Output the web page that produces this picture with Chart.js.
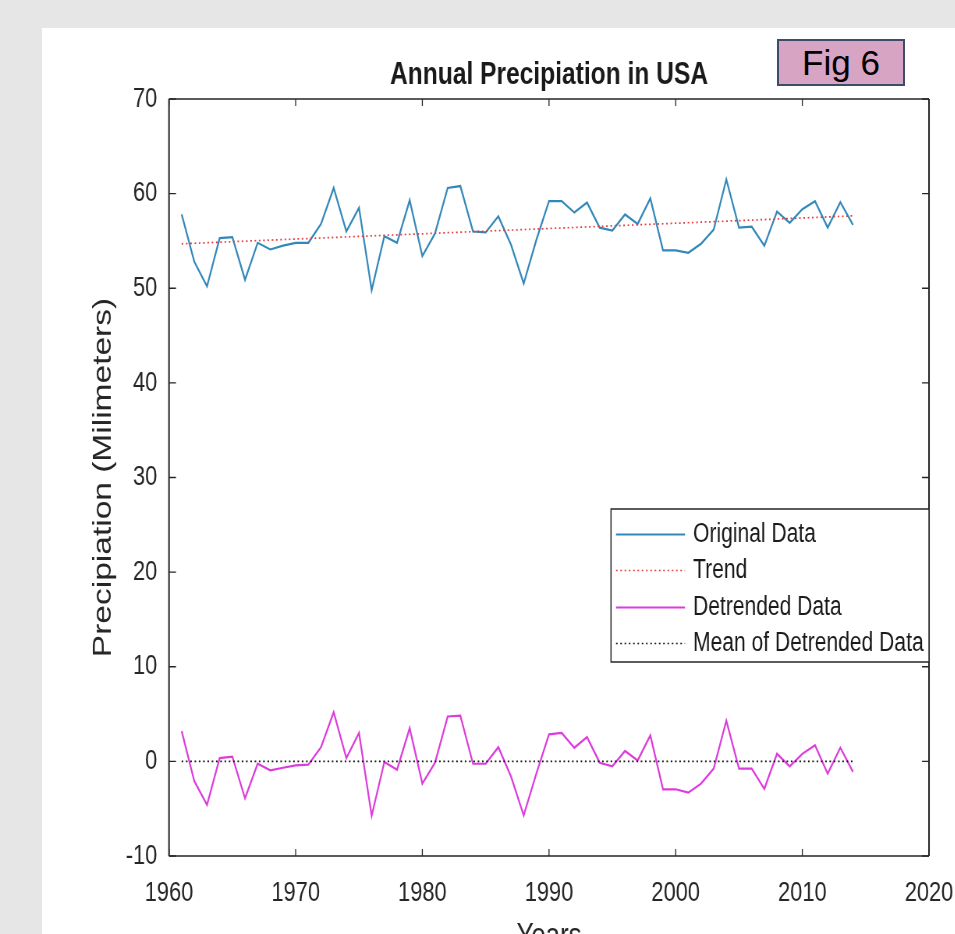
<!DOCTYPE html>
<html>
<head>
<meta charset="utf-8">
<script src="https://cdn.jsdelivr.net/npm/chart.js@4.4.1/dist/chart.umd.min.js"></script>
<style>
  html, body { margin: 0; padding: 0; width: 955px; height: 934px; overflow: hidden; background: #e6e6e6; }
  #panel { position: absolute; left: 42px; top: 28px; right: 0; bottom: 0; background: #ffffff; }
  #wrap { position: absolute; left: 0; top: 0; transform-origin: 0 0; }
  #fig { position: absolute; left: 777px; top: 39px; width: 124px; height: 43px;
         background: #d8a4c4; border: 2px solid #3e4c6c; color: #000;
         font: 35px 'Liberation Sans', Arial, sans-serif; text-align: center; line-height: 43px; }
</style>
</head>
<body>
<div id="panel"></div>
<div id="wrap"><canvas id="c"></canvas></div>
<div id="fig">Fig 6</div>
<script>
// Annual precipitation series, 1961-2014
const years = [1961, 1962, 1963, 1964, 1965, 1966, 1967, 1968, 1969, 1970,
               1971, 1972, 1973, 1974, 1975, 1976, 1977, 1978, 1979, 1980,
               1981, 1982, 1983, 1984, 1985, 1986, 1987, 1988, 1989, 1990,
               1991, 1992, 1993, 1994, 1995, 1996, 1997, 1998, 1999, 2000,
               2001, 2002, 2003, 2004, 2005, 2006, 2007, 2008, 2009, 2010,
               2011, 2012, 2013, 2014];
const originalData = [57.8, 52.8, 50.2, 55.3, 55.4, 50.9, 54.8, 54.1, 54.5, 54.8,
                      54.8, 56.8, 60.6, 56.0, 58.5, 49.8, 55.5, 54.8, 59.3, 53.4,
                      55.8, 60.6, 60.8, 56.0, 55.9, 57.6, 54.6, 50.5, 55.1, 59.2,
                      59.2, 58.0, 59.05, 56.4, 56.1, 57.8, 56.8, 59.5, 54.0, 54.0,
                      53.75, 54.7, 56.2, 61.5, 56.4, 56.5, 54.5, 58.1, 56.9, 58.35,
                      59.2, 56.4, 59.1, 56.7];
const detrendedData = [3.2, -2.1, -4.6, 0.35, 0.5, -3.9, -0.25, -0.95, -0.67, -0.42,
                       -0.35, 1.5, 5.2, 0.35, 3.0, -5.75, -0.07, -0.88, 3.5, -2.35,
                       -0.14, 4.74, 4.84, -0.25, -0.25, 1.5, -1.6, -5.7, -1.3, 2.85,
                       3.0, 1.44, 2.56, -0.14, -0.53, 1.1, 0.1, 2.74, -2.95, -2.95,
                       -3.3, -2.35, -0.77, 4.3, -0.77, -0.77, -2.9, 0.8, -0.53, 0.8,
                       1.7, -1.3, 1.44, -1.1];
// straight lines: linear trend and mean of the detrended series
const lineYears = [1961, 2014];
const trendValues = [54.7, 57.65];
const meanValues = [0, 0];

const xTicks = [1960, 1970, 1980, 1990, 2000, 2010, 2020];
const yTicks = [-10, 0, 10, 20, 30, 40, 50, 60, 70];

// ---- layout (the whole drawing is squeezed horizontally by S) ----
const S = 0.78;
const CW = Math.round(955 / S), CH = 960;
const plotLeft = 169 / S, plotRight = 929 / S, plotTop = 99, plotBottom = 856;
const FONT = "'Liberation Sans', Arial, Helvetica, sans-serif";
const AXIS = '#262626';

const canvas = document.getElementById('c');
canvas.width = CW; canvas.height = CH;
canvas.style.width = CW + 'px'; canvas.style.height = CH + 'px';
document.getElementById('wrap').style.transform = 'scaleX(' + S + ')';

const pts = (xs, ys) => xs.map((x, i) => ({ x: x, y: ys[i] }));

// axes box with inward tick marks on all four sides
const boxPlugin = {
  id: 'box',
  afterDatasetsDraw(chart) {
    const { ctx, chartArea: a, scales } = chart;
    ctx.save();
    ctx.strokeStyle = AXIS;
    ctx.lineWidth = 1.3;
    xTicks.forEach(v => {
      const px = scales.x.getPixelForValue(v);
      ctx.beginPath();
      ctx.moveTo(px, a.bottom); ctx.lineTo(px, a.bottom - 7);
      ctx.moveTo(px, a.top); ctx.lineTo(px, a.top + 7);
      ctx.stroke();
    });
    yTicks.forEach(v => {
      const py = scales.y.getPixelForValue(v);
      ctx.beginPath();
      ctx.moveTo(a.left, py); ctx.lineTo(a.left + 7 / S, py);
      ctx.moveTo(a.right, py); ctx.lineTo(a.right - 7 / S, py);
      ctx.stroke();
    });
    ctx.lineWidth = 1.6;
    ctx.beginPath();
    ctx.moveTo(a.left, a.top); ctx.lineTo(a.right, a.top);
    ctx.moveTo(a.left, a.bottom); ctx.lineTo(a.right, a.bottom);
    ctx.stroke();
    ctx.lineWidth = 2;
    ctx.beginPath();
    ctx.moveTo(a.left, a.top); ctx.lineTo(a.left, a.bottom);
    ctx.moveTo(a.right, a.top); ctx.lineTo(a.right, a.bottom);
    ctx.stroke();
    ctx.restore();
  }
};

// legend box inside the plot, lower right
const legendPlugin = {
  id: 'insideLegend',
  afterDraw(chart) {
    const { ctx } = chart;
    const bx = 611 / S, bw = 929 / S - bx, by = 509, bh = 153;
    const rows = [533, 569, 606, 642];
    ctx.save();
    ctx.fillStyle = '#ffffff';
    ctx.fillRect(bx, by, bw, bh);
    ctx.strokeStyle = AXIS;
    ctx.lineWidth = 1.5;
    ctx.strokeRect(bx, by, bw, bh);
    chart.data.datasets.forEach((ds, i) => {
      const y = rows[i] + 1.5;
      ctx.beginPath();
      ctx.strokeStyle = ds.borderColor;
      ctx.lineWidth = ds.borderWidth;
      ctx.setLineDash(ds.borderDash || []);
      ctx.moveTo(616 / S, y); ctx.lineTo(685 / S, y);
      ctx.stroke();
      ctx.setLineDash([]);
      ctx.fillStyle = '#1a1a1a';
      ctx.font = '27px ' + FONT;
      ctx.textBaseline = 'middle';
      ctx.textAlign = 'left';
      ctx.fillText(ds.label, 693 / S, y);
    });
    ctx.restore();
  }
};

new Chart(canvas, {
  type: 'line',
  data: {
    datasets: [
      { label: 'Original Data', data: pts(years, originalData), borderColor: '#3388ba',
        borderWidth: 2.2, pointRadius: 0, tension: 0, order: 4 },
      { label: 'Trend', data: pts(lineYears, trendValues), borderColor: '#e23a3a',
        borderWidth: 1.7, borderDash: [2, 3.5], pointRadius: 0, tension: 0, order: 3 },
      { label: 'Detrended Data', data: pts(years, detrendedData), borderColor: '#dc3cdc',
        borderWidth: 2.2, pointRadius: 0, tension: 0, order: 2 },
      { label: 'Mean of Detrended Data', data: pts(lineYears, meanValues), borderColor: '#111111',
        borderWidth: 1.7, borderDash: [2, 3.5], pointRadius: 0, tension: 0, order: 1 }
    ]
  },
  options: {
    responsive: false,
    animation: false,
    devicePixelRatio: 1,
    layout: { padding: { left: 0, right: CW - plotRight, top: 0, bottom: 0 } },
    plugins: {
      legend: { display: false },
      tooltip: { enabled: false },
      title: {
        display: true, text: 'Annual Precipiation in USA', fullSize: false,
        color: '#1a1a1a', font: { family: FONT, size: 31.5, weight: 'bold' },
        padding: { top: 56, bottom: plotTop - 56 - 31.5 * 1.2 }
      }
    },
    scales: {
      x: {
        type: 'linear', min: 1960, max: 2020,
        afterBuildTicks: s => { s.ticks = xTicks.map(v => ({ value: v })); },
        afterFit: s => { s.height = CH - plotBottom; s.paddingLeft = 0; s.paddingRight = 0; },
        ticks: { color: AXIS, font: { family: FONT, size: 28 }, padding: 20,
                 maxRotation: 0, autoSkip: false, callback: v => String(v) },
        grid: { display: false, drawTicks: false },
        border: { display: false },
        title: { display: true, text: 'Years', color: AXIS,
                 font: { family: FONT, size: 33 }, padding: { top: 0, bottom: 3 } }
      },
      y: {
        type: 'linear', min: -10, max: 70,
        afterBuildTicks: s => { s.ticks = yTicks.map(v => ({ value: v })); },
        afterFit: s => { s.width = plotLeft; },
        ticks: { color: AXIS, font: { family: FONT, size: 28 }, padding: 15,
                 autoSkip: false, callback: v => String(v) },
        grid: { display: false, drawTicks: false },
        border: { display: false },
        title: { display: true, text: 'Precipiation (Milimeters)', color: AXIS,
                 font: { family: FONT, size: 33.5 }, padding: { top: 113, bottom: 0 } }
      }
    }
  },
  plugins: [boxPlugin, legendPlugin]
});
</script>
</body>
</html>
